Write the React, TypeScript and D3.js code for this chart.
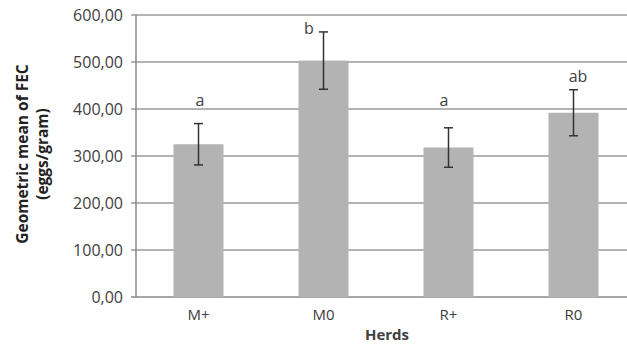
import React from "react";
import * as d3 from "d3";

const categories = ["M+", "M0", "R+", "R0"];
const means = [325, 503, 318, 392];
const errors = [44, 61, 42, 49];
const letters = ["a", "b", "a", "ab"];
const yTicks = [0, 100, 200, 300, 400, 500, 600];

const W = 627;
const H = 344;
const left = 136;
const right = 636;
const top = 15;
const bottom = 297;

export default function App() {
  const x = d3.scaleBand<string>().domain(categories).range([left, right]).paddingInner(0.6).paddingOuter(0.3);
  const y = d3.scaleLinear().domain([0, 600]).range([bottom, top]);
  const bw = x.bandwidth();
  const fmt = (v: number) => d3.format(".2f")(v).replace(".", ",");
  const font = "'Open Sans', sans-serif";
  const txt = "#404040";
  return (
    <svg width={W} height={H} style={{ position: "absolute", left: 0, top: 0, background: "#fff" }} fontFamily={font}>
      {yTicks.map((t) => (
        <g key={t}>
          <line x1={left - 5} x2={right} y1={y(t)} y2={y(t)} stroke={t === 0 ? "#8a8a8a" : "#9a9a9a"} strokeWidth={1.5} />
          <text x={123} y={y(t)} dy="0.36em" textAnchor="end" fontSize={16} fill={txt}>{fmt(t)}</text>
        </g>
      ))}
      <line x1={left} x2={left} y1={top} y2={bottom} stroke="#8a8a8a" strokeWidth={1.5} />
      {categories.map((c, i) => {
        const cx = (x(c) as number) + bw / 2;
        const yTop = y(means[i] + errors[i]);
        const yBot = y(means[i] - errors[i]);
        return (
          <g key={c}>
            <rect x={x(c)} y={y(means[i])} width={bw} height={bottom - y(means[i])} fill="#b3b3b3" />
            <line x1={cx} x2={cx} y1={yTop} y2={yBot} stroke="#333" strokeWidth={1.5} />
            <line x1={cx - 4.5} x2={cx + 4.5} y1={yTop} y2={yTop} stroke="#333" strokeWidth={1.5} />
            <line x1={cx - 4.5} x2={cx + 4.5} y1={yBot} y2={yBot} stroke="#333" strokeWidth={1.5} />
            <text x={cx} y={320} textAnchor="middle" fontSize={15} fill={txt}>{c}</text>
          </g>
        );
      })}
      <text x={200} y={106} textAnchor="middle" fontSize={16} fill={txt}>{letters[0]}</text>
      <text x={309} y={34} textAnchor="middle" fontSize={16} fill={txt}>{letters[1]}</text>
      <text x={444} y={106} textAnchor="middle" fontSize={16} fill={txt}>{letters[2]}</text>
      <text x={578} y={82} textAnchor="middle" fontSize={16} fill={txt}>{letters[3]}</text>
      <text x={387} y={340} textAnchor="middle" fontSize={15} fontWeight="bold" fill={txt}>Herds</text>
      <g transform="translate(28,154) rotate(-90)">
        <text x={0} y={0} textAnchor="middle" fontSize={15.5} fontWeight="bold" fill="#222">Geometric mean of FEC</text>
        <text x={0} y={20} textAnchor="middle" fontSize={15.5} fontWeight="bold" fill="#222">(eggs/gram)</text>
      </g>
    </svg>
  );
}
